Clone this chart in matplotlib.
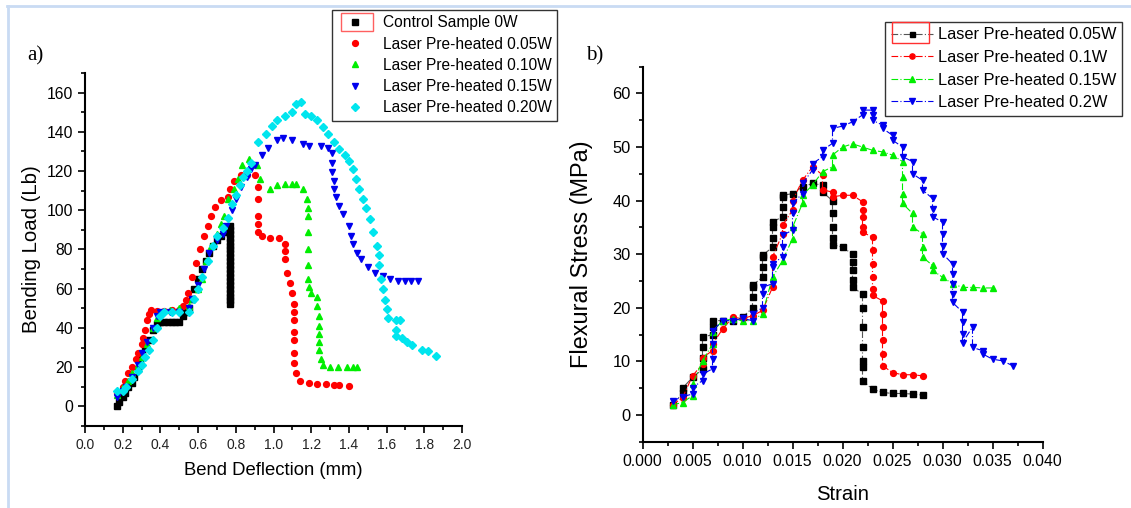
import numpy as np
import matplotlib
matplotlib.use("Agg")
import matplotlib.pyplot as plt
from matplotlib.lines import Line2D
from matplotlib.patches import Rectangle
from matplotlib.ticker import MultipleLocator

plt.rcParams['font.family'] = ['Liberation Sans', 'DejaVu Sans']

W, H = 1131, 508

# ---------------- panel a) bending load vs deflection ----------------
a_labels = ["Control Sample 0W", "Laser Pre-heated 0.05W", "Laser Pre-heated 0.10W",
            "Laser Pre-heated 0.15W", "Laser Pre-heated 0.20W"]

a0_x = [0.17, 0.18, 0.20, 0.21, 0.23, 0.25, 0.26, 0.28, 0.29, 0.30, 0.32, 0.34, 0.36, 0.38,
        0.40, 0.42, 0.44, 0.46, 0.48, 0.50, 0.52, 0.53, 0.55, 0.57, 0.58, 0.60, 0.62, 0.64,
        0.66, 0.68, 0.70, 0.72, 0.74, 0.76, 0.77, 0.77, 0.77, 0.77, 0.77, 0.77, 0.77, 0.77,
        0.77, 0.77, 0.77, 0.77, 0.77, 0.77, 0.77, 0.77, 0.77, 0.77, 0.77, 0.77, 0.77]
a0_y = [0, 2, 5, 7, 10, 12, 15, 19, 22, 26, 30, 34, 39, 42, 43, 43, 43, 43, 43, 43, 46,
        48, 50, 55, 60, 65, 70, 74, 78, 82, 85, 87, 89, 91, 92, 90, 88, 86, 84, 82, 80, 78,
        76, 74, 72, 70, 68, 66, 64, 62, 60, 58, 56, 54, 52]

a1_x = [0.17, 0.20, 0.21, 0.23, 0.25, 0.27, 0.28, 0.30, 0.31, 0.32, 0.33, 0.34, 0.35,
        0.38, 0.42, 0.46, 0.50, 0.52, 0.535, 0.545, 0.57, 0.59, 0.61, 0.63, 0.65, 0.67,
        0.69, 0.72, 0.76, 0.77, 0.79, 0.83, 0.86, 0.90, 0.92, 0.92, 0.92, 0.92, 0.92, 0.94,
        0.98, 1.03, 1.06, 1.06, 1.06, 1.07, 1.09, 1.10, 1.11, 1.11, 1.11, 1.11, 1.11, 1.11,
        1.11, 1.12, 1.14, 1.19, 1.23, 1.28, 1.32, 1.35, 1.40]
a1_y = [7, 10, 13, 17, 20, 24, 27, 32, 35, 39, 44, 47, 49, 48.5, 48.5, 49, 49, 51, 54.5,
        58, 66, 73, 80, 87, 92, 97, 101.5, 105, 107, 111, 115, 118, 118, 118, 112, 106, 97,
        93, 89, 87, 86, 86, 83, 79, 75, 68, 63, 58, 52, 48, 44, 38, 34, 27, 22, 17, 13, 12,
        11.3, 11.3, 11, 11, 10.6]

a2_x = [0.17, 0.20, 0.23, 0.25, 0.28, 0.30, 0.33, 0.36, 0.38, 0.40, 0.45, 0.50, 0.55,
        0.57, 0.60, 0.62, 0.64, 0.67, 0.70, 0.72, 0.74, 0.76, 0.79, 0.81, 0.835, 0.87,
        0.91, 0.93, 0.98, 1.02, 1.06, 1.10, 1.12, 1.155, 1.18, 1.185, 1.185, 1.185, 1.185,
        1.185, 1.185, 1.19, 1.20, 1.23, 1.23, 1.24, 1.24, 1.24, 1.24, 1.24, 1.25, 1.26,
        1.30, 1.34, 1.39, 1.42, 1.445]
a2_y = [6, 10, 13, 17, 21, 25, 32, 40, 45, 48, 49, 50, 51, 55, 60, 65, 74, 82, 88, 93,
        97, 106, 111, 116, 123, 126, 123, 116, 111, 113, 113.5, 113.5, 113.5, 111, 106,
        101, 97, 89, 80, 72, 65, 61, 58, 56, 51, 46, 41, 37, 33, 29, 24, 21, 20, 20, 20,
        20, 20]

a3_x = [0.17, 0.20, 0.22, 0.25, 0.28, 0.30, 0.33, 0.36, 0.38, 0.40, 0.45, 0.50, 0.55,
        0.57, 0.60, 0.63, 0.66, 0.70, 0.73, 0.75, 0.78, 0.80, 0.83, 0.86, 0.88, 0.90, 0.94,
        0.97, 1.02, 1.05, 1.10, 1.155, 1.19, 1.25, 1.29, 1.31, 1.31, 1.31, 1.32, 1.32,
        1.33, 1.35, 1.37, 1.40, 1.41, 1.42, 1.445, 1.465, 1.50, 1.54, 1.58, 1.62, 1.66,
        1.70, 1.73, 1.765]
a3_y = [5, 8, 10, 15, 21, 27, 33, 40, 46, 48, 48, 48, 50, 55, 62, 70, 78, 85, 88, 92,
        100, 106, 112, 117, 121, 123, 128, 132, 136, 137, 136, 134, 133, 133, 132, 129,
        124, 119.5, 115, 111, 106.7, 102, 98, 92, 87, 83, 78, 75, 71, 68, 66.5, 65, 64,
        64, 64, 64]

a4_x = [0.17, 0.20, 0.22, 0.25, 0.28, 0.30, 0.32, 0.34, 0.36, 0.38, 0.40, 0.42, 0.46,
        0.50, 0.55, 0.58, 0.60, 0.62, 0.65, 0.68, 0.70, 0.73, 0.76, 0.78, 0.80, 0.82, 0.84,
        0.86, 0.88, 0.92, 0.96, 0.99, 1.02, 1.06, 1.10, 1.12, 1.145, 1.165, 1.20, 1.23,
        1.26, 1.29, 1.32, 1.35, 1.38, 1.40, 1.42, 1.44, 1.455, 1.475, 1.49, 1.51, 1.53,
        1.55, 1.56, 1.56, 1.57, 1.58, 1.59, 1.60, 1.61, 1.65, 1.67, 1.65, 1.65, 1.68, 1.71,
        1.735, 1.79, 1.82, 1.86]
a4_y = [8, 8, 10, 14, 18, 21, 25, 29, 34, 40, 46, 48, 48, 48, 48, 55, 60, 66, 74, 82,
        87, 91, 96, 103, 108, 113, 117, 120, 124, 135, 139, 143, 146, 148, 150, 154, 155,
        149, 148, 146, 142.5, 139, 135, 131, 128, 125, 121, 116, 111, 106, 101, 95.5, 89,
        82, 77, 72, 65, 60, 54.5, 49.5, 45, 44, 44, 39, 36, 35, 33, 31.5, 29, 28, 25.5]

# ---------------- panel b) flexural stress vs strain ----------------
b_labels = ["Laser Pre-heated 0.05W", "Laser Pre-heated 0.1W",
            "Laser Pre-heated 0.15W", "Laser Pre-heated 0.2W"]

b0_x = [0.003, 0.004, 0.004, 0.005, 0.006, 0.006, 0.006, 0.006, 0.007, 0.007, 0.007,
        0.008, 0.009, 0.010, 0.011, 0.011, 0.011, 0.011, 0.012, 0.012, 0.012, 0.012, 0.013,
        0.013, 0.013, 0.013, 0.014, 0.014, 0.014, 0.014, 0.015, 0.016, 0.017, 0.018, 0.018,
        0.019, 0.019, 0.019, 0.019, 0.019, 0.020, 0.021, 0.021, 0.021, 0.021, 0.021, 0.022,
        0.022, 0.022, 0.022, 0.022, 0.022, 0.022, 0.023, 0.024, 0.025, 0.026, 0.027, 0.028]
b0_y = [1.9, 4, 5, 7, 8.5, 10.7, 12.6, 14.5, 15, 16.5, 17.6, 17.6, 17.6, 18.2, 20, 22,
        23.8, 24.2, 25.7, 27.6, 29.5, 29.8, 31.3, 33, 35, 36, 37, 38.8, 40.7, 41, 41.3,
        42.6, 43.2, 42.9, 41.6, 40, 37.6, 35, 33, 31.8, 31.3, 30, 28.5, 27, 25.1, 23.8, 22.6,
        20, 16.4, 12.6, 10, 8.9, 6.4, 4.8, 4.2, 4.0, 4.0, 3.9, 3.7]

b1_x = [0.003, 0.004, 0.005, 0.006, 0.006, 0.007, 0.007, 0.008, 0.009, 0.010, 0.011,
        0.012, 0.013, 0.013, 0.014, 0.014, 0.015, 0.015, 0.016, 0.017, 0.018, 0.018, 0.019,
        0.019, 0.020, 0.021, 0.022, 0.022, 0.022, 0.022, 0.022, 0.023, 0.023, 0.023, 0.023,
        0.023, 0.023, 0.024, 0.024, 0.024, 0.024, 0.024, 0.024, 0.025, 0.026, 0.027, 0.028]
b1_y = [1.9, 3.2, 7.3, 9.5, 10.7, 12, 13.2, 16, 18.2, 18, 18.5, 19.5, 23.8, 29.5, 33.8,
        35.4, 38.2, 40, 43.8, 46.3, 44.8, 42, 41.6, 40.7, 41, 41, 39.8, 38.2, 37, 35, 34.1,
        33.2, 30.7, 28.2, 25.7, 23.5, 22.3, 21.3, 18.9, 16.4, 13.9, 11.4, 9.2, 7.9, 7.5,
        7.5, 7.3]

b2_x = [0.003, 0.004, 0.005, 0.005, 0.006, 0.007, 0.007, 0.008, 0.009, 0.010, 0.011,
        0.012, 0.013, 0.014, 0.015, 0.015, 0.016, 0.016, 0.017, 0.018, 0.019, 0.019, 0.020,
        0.021, 0.022, 0.023, 0.024, 0.025, 0.026, 0.026, 0.026, 0.026, 0.027, 0.027, 0.028,
        0.028, 0.028, 0.029, 0.029, 0.030, 0.031, 0.032, 0.033, 0.034, 0.035]
b2_y = [1.9, 2.3, 3.6, 5.7, 10.1, 13.2, 15.5, 17.6, 17.9, 17.6, 17.6, 18.9, 25.7, 28.8,
        32.9, 35, 39.5, 41, 42.9, 45.4, 46.3, 48.5, 50, 50.6, 50, 49.4, 49.1, 48.5, 47.3,
        44.4, 41.3, 39.5, 37.6, 35.1, 33.8, 31.3, 29.5, 27.9, 27, 25.7, 24.5, 23.8, 23.8,
        23.7, 23.7]

b3_x = [0.003, 0.004, 0.005, 0.005, 0.006, 0.006, 0.007, 0.007, 0.007, 0.007, 0.008,
        0.009, 0.010, 0.011, 0.011, 0.012, 0.012, 0.012, 0.013, 0.013, 0.013, 0.014, 0.014,
        0.014, 0.015, 0.015, 0.015, 0.016, 0.016, 0.017, 0.017, 0.018, 0.018, 0.019, 0.019,
        0.020, 0.021, 0.022, 0.022, 0.023, 0.023, 0.023, 0.024, 0.024, 0.025, 0.025, 0.026,
        0.026, 0.027, 0.027, 0.028, 0.028, 0.029, 0.029, 0.029, 0.030, 0.030, 0.030, 0.030,
        0.031, 0.031, 0.031, 0.031, 0.031, 0.032, 0.032, 0.032, 0.032, 0.033, 0.033, 0.034,
        0.034, 0.035, 0.036, 0.037]
b3_y = [2.6, 3.4, 3.9, 5.1, 6.4, 7.6, 8.6, 10.4, 13.2, 15.7, 17.6, 17.6, 18, 17.6, 18.9,
        20, 22.6, 23.8, 24.5, 27.6, 28.2, 29.5, 31.3, 33.5, 34.5, 37.6, 39.5, 41.3, 43.2,
        45.7, 46.9, 48.2, 49.4, 50.7, 53.5, 53.9, 54.7, 56, 56.9, 56.9, 56, 55, 54.1, 53.5,
        52.2, 51.3, 50, 48.2, 47.3, 45, 43.8, 42, 40.4, 38.5, 37, 36, 33.8, 31.6, 30.1, 28.2,
        26.3, 24.5, 22.6, 21, 19.2, 17.3, 15.1, 13.5, 16.4, 12.6, 12, 11.4, 10.4, 10.1, 9.2]

a_series = [(a0_x, a0_y), (a1_x, a1_y), (a2_x, a2_y), (a3_x, a3_y), (a4_x, a4_y)]
b_series = [(b0_x, b0_y), (b1_x, b1_y), (b2_x, b2_y), (b3_x, b3_y)]
a_colors = ["black", "#ff0000", "#00ee00", "#0000ee", "#00e5ee"]
b_colors = ["black", "#ff0000", "#00ee00", "#0000ee"]
b_linecolors = ["#555555", "#ff0000", "#00ee00", "#0000ee"]
a_markers = ["s", "o", "^", "v", "D"]
a_sizes = [4, 4.2, 5, 5, 4.2]
b_markers = ["s", "o", "^", "v"]
b_sizes = [4, 4.2, 5, 5]

fig = plt.figure(figsize=(W / 100, H / 100), dpi=100)

# light blue frame of the original figure
fig.add_artist(Line2D([7 / W, 1], [1 - 6 / H, 1 - 6 / H], color="#c9dbf3", lw=2))
fig.add_artist(Line2D([8 / W, 8 / W], [0, 1 - 6 / H], color="#c9dbf3", lw=2))


def style_axes(ax):
    for side in ["top", "right"]:
        ax.spines[side].set_visible(False)
    for side in ["left", "bottom"]:
        ax.spines[side].set_linewidth(1.5)
    ax.tick_params(which="both", direction="out", width=1.2)
    ax.tick_params(which="major", length=5)
    ax.tick_params(which="minor", length=3)


# ----- left panel -----
ax1 = fig.add_axes([85 / W, 1 - 426 / H, 377 / W, 353 / H])
for (x, y), c, m, s, lab in zip(a_series, a_colors, a_markers, a_sizes, a_labels):
    ax1.plot(x, y, linestyle="none", marker=m, color=c, ms=s, label=lab)
ax1.set_xlim(0, 2.0)
ax1.set_ylim(-10, 170)
ax1.xaxis.set_major_locator(MultipleLocator(0.2))
ax1.xaxis.set_minor_locator(MultipleLocator(0.1))
ax1.set_yticks(np.arange(0, 161, 20))
ax1.yaxis.set_minor_locator(MultipleLocator(10))
style_axes(ax1)
ax1.tick_params(axis="x", labelsize=10, labelcolor="#222222")
ax1.tick_params(axis="y", labelsize=11.3)
ax1.set_xlabel("Bend Deflection (mm)", fontsize=13.3)
ax1.xaxis.set_label_coords(0.5, -0.102)
ax1.set_ylabel("Bending Load (Lb)", fontsize=14.7)
ax1.yaxis.set_label_coords(-0.117, 0.5)
fig.text(27 / W, 1 - 56 / H, "a)", family="Liberation Serif", fontsize=15, va="center")

leg1 = ax1.legend(loc="upper left", bbox_to_anchor=(332 / W, 1 - 10 / H),
                  bbox_transform=fig.transFigure, borderaxespad=0, fontsize=11.2,
                  frameon=True, fancybox=False, edgecolor="#333333", framealpha=1,
                  borderpad=0.35, labelspacing=0.4, handlelength=2.2, handletextpad=0.7,
                  markerscale=1.0)
leg1.get_frame().set_linewidth(1.0)

# ----- right panel -----
ax2 = fig.add_axes([642.5 / W, 1 - 441.7 / H, 400 / W, 375 / H])
for (x, y), c, lc, m, s, lab in zip(b_series, b_colors, b_linecolors, b_markers, b_sizes,
                                    b_labels):
    ax2.plot(x, y, linestyle=(0, (6, 2, 1, 2)), lw=0.8, color=lc, marker=m, mfc=c, mec=c,
             ms=s, label=lab)
ax2.set_xlim(0, 0.040)
ax2.set_ylim(-5, 65)
xt = np.arange(0, 0.0401, 0.005)
ax2.set_xticks(xt)
ax2.set_xticklabels(["%.3f" % v for v in xt])
ax2.xaxis.set_minor_locator(MultipleLocator(0.0025))
ax2.set_yticks(np.arange(0, 61, 10))
ax2.yaxis.set_minor_locator(MultipleLocator(5))
style_axes(ax2)
ax2.tick_params(axis="x", labelsize=11.3)
ax2.tick_params(axis="y", labelsize=11.8)
ax2.set_xlabel("Strain", fontsize=14.6)
ax2.xaxis.set_label_coords(0.5, -0.116)
ax2.set_ylabel("Flexural Stress (MPa)", fontsize=16.9)
ax2.yaxis.set_label_coords(-0.124, 0.5)
fig.text(586 / W, 1 - 56 / H, "b)", family="Liberation Serif", fontsize=15, va="center")

leg2 = ax2.legend(loc="upper left", bbox_to_anchor=(885 / W, 1 - 21.7 / H),
                  bbox_transform=fig.transFigure, borderaxespad=0, fontsize=11.8,
                  frameon=True, fancybox=False, edgecolor="#333333", framealpha=1,
                  borderpad=0.35, labelspacing=0.46, handlelength=2.6, handletextpad=0.3,
                  markerscale=0.9)
leg2.get_frame().set_linewidth(1.0)

# red selection boxes around the first legend handles (as in the original)
fig.add_artist(Rectangle((341 / W, 1 - 31 / H), 32 / W, 18.3 / H, fill=False,
                         edgecolor="#ff6060", lw=1))
fig.add_artist(Rectangle((892 / W, 1 - 43.3 / H), 37 / W, 21.6 / H, fill=False,
                         edgecolor="#ff3030", lw=1))

fig.savefig("out.png", dpi=100)
